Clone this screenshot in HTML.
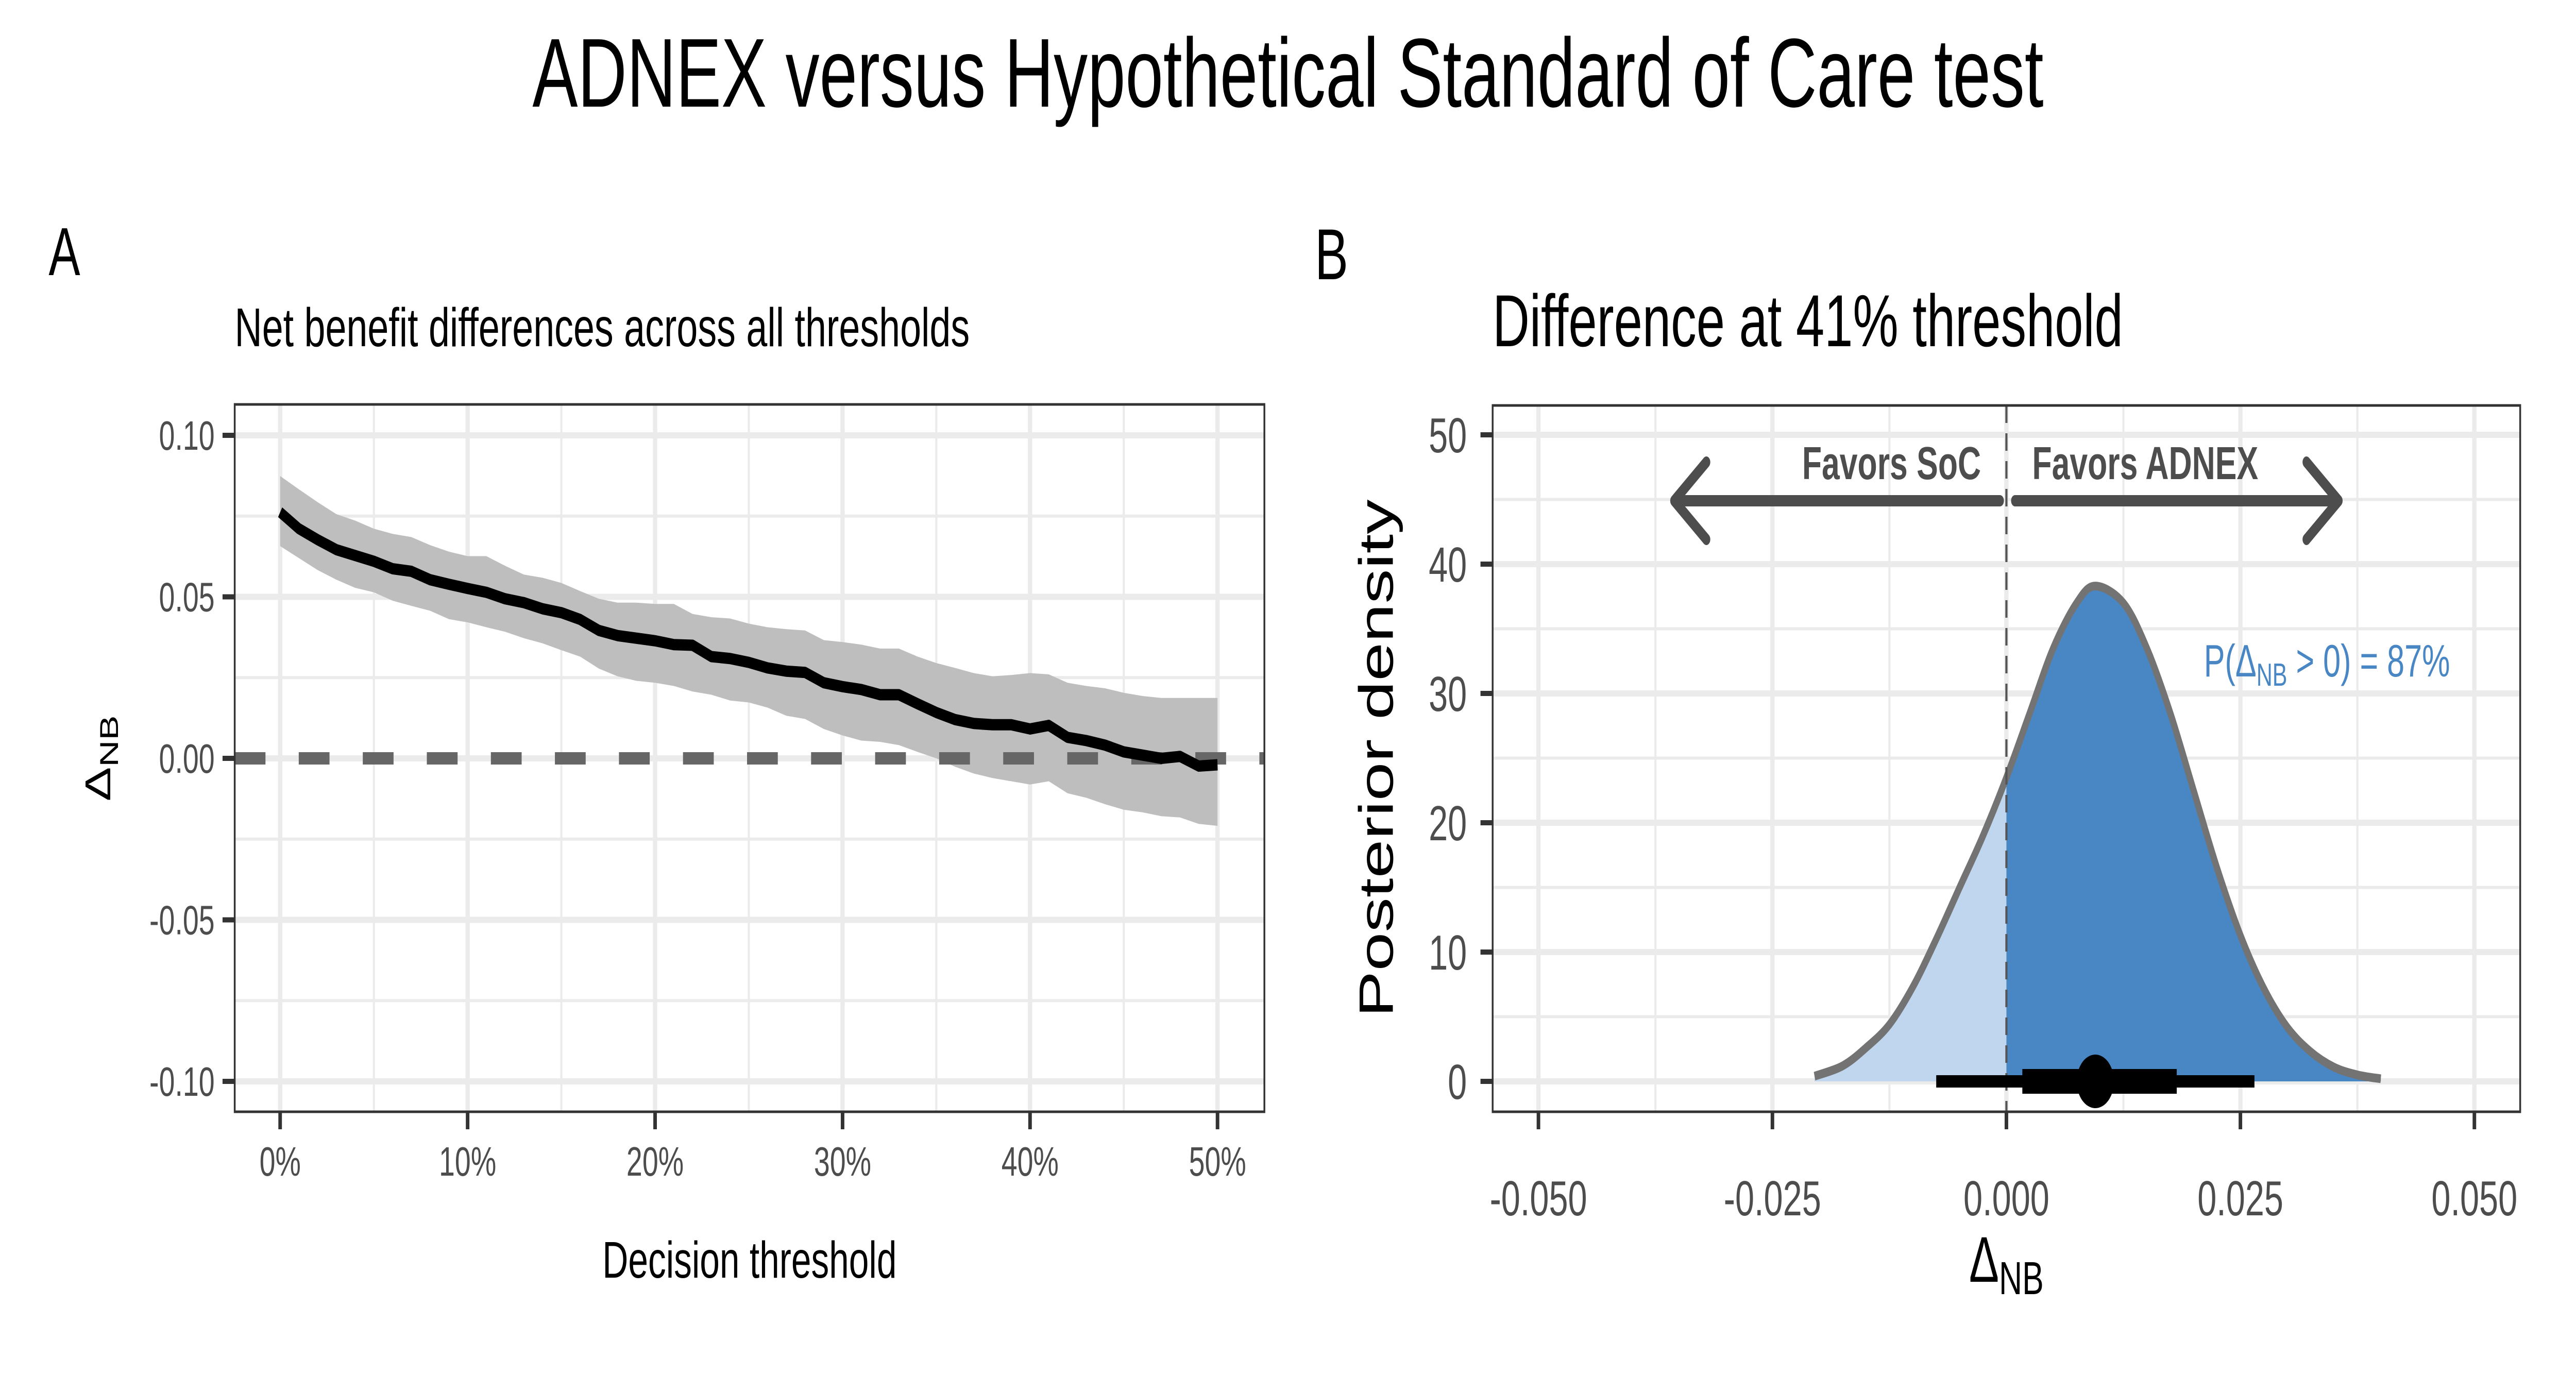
<!DOCTYPE html>
<html><head><meta charset="utf-8"><style>
html,body{margin:0;padding:0;background:#fff;width:100vw;height:100vh;overflow:hidden;}
svg{display:block;font-family:"Liberation Sans",sans-serif;width:100vw;height:100vh;}
</style></head><body>
<svg id="chart" width="100%" height="100%" viewBox="0 0 7200 2700" preserveAspectRatio="none" xmlns="http://www.w3.org/2000/svg">
<rect width="7200" height="2700" fill="#fff"/>
<text x="3600" y="207" font-size="190" text-anchor="middle" fill="#000">ADNEX versus Hypothetical Standard of Care test</text>
<text x="136" y="534" font-size="132" fill="#000">A</text>
<text x="3675" y="542" font-size="140" fill="#000">B</text>
<text x="656" y="672" font-size="106" fill="#000">Net benefit differences across all thresholds</text>
<text x="4172" y="672" font-size="143" fill="#000">Difference at 41% threshold</text>
<g id="pa"></g>
<g id="pb"></g>
</svg>
<script>
// ---- Panel A data ----
const thresholds = [0,1,2,3,4,5,6,7,8,9,10,11,12,13,14,15,16,17,18,19,20,21,22,23,24,25,26,27,28,29,30,31,32,33,34,35,36,37,38,39,40,41,42,43,44,45,46,47,48,49,50];
const meanDiff = [0.0762,0.0711,0.0677,0.0646,0.0628,0.061,0.0587,0.0579,0.0553,0.0539,0.0526,0.0514,0.0494,0.0482,0.0463,0.0451,0.043,0.0396,0.038,0.0372,0.0364,0.0352,0.035,0.0315,0.0309,0.0297,0.028,0.027,0.0266,0.0234,0.0222,0.0213,0.0197,0.0197,0.0169,0.0142,0.012,0.0108,0.0104,0.0104,0.0091,0.0102,0.0065,0.0055,0.0041,0.002,0.001,0.0,0.0006,-0.0024,-0.002];
const upperDiff = [0.0874,0.0833,0.0793,0.0756,0.0736,0.0711,0.0695,0.0685,0.066,0.064,0.0626,0.0626,0.0596,0.0569,0.0559,0.0543,0.0518,0.0494,0.0482,0.0482,0.0478,0.0478,0.0447,0.0437,0.0433,0.0417,0.0406,0.04,0.0396,0.0366,0.036,0.0352,0.034,0.034,0.0315,0.0295,0.028,0.0264,0.0254,0.0258,0.0264,0.026,0.0234,0.0224,0.0217,0.0203,0.0193,0.0187,0.0187,0.0187,0.0187];
const lowerDiff = [0.0657,0.062,0.0583,0.0553,0.0528,0.0514,0.0488,0.0472,0.0457,0.0431,0.0421,0.0406,0.0392,0.0372,0.0356,0.0335,0.0315,0.0278,0.0254,0.024,0.0234,0.0224,0.0207,0.0197,0.0179,0.0173,0.0157,0.0132,0.0122,0.0091,0.0071,0.0055,0.0051,0.0041,0.002,0.0,-0.0026,-0.0047,-0.0061,-0.0071,-0.0081,-0.0071,-0.0108,-0.0122,-0.0142,-0.0159,-0.0167,-0.0179,-0.0183,-0.0203,-0.0209];
const aXTicks = [0,10,20,30,40,50];
const aXTickLabels = ["0%","10%","20%","30%","40%","50%"];
const aYTicks = [0.10,0.05,0.00,-0.05,-0.10];
const aYTickLabels = ["0.10","0.05","0.00","-0.05","-0.10"];
// ---- Panel B data ----
const densX = [-0.0205,-0.0175,-0.015,-0.0125,-0.01,-0.0075,-0.005,-0.0025,0,0.0025,0.005,0.0075,0.0095,0.0125,0.015,0.0175,0.02,0.0225,0.025,0.0275,0.03,0.0325,0.035,0.0375,0.04];
const densY = [0.4,1.2,2.6,4.4,7.3,11.0,15.0,19.0,23.5,28.5,33.5,37.0,38.3,37.0,33.5,28.5,22.5,16.5,11.3,7.2,4.2,2.3,1.1,0.5,0.2];
const intervalOuter = [-0.0075,0.0265];
const intervalInner = [0.0017,0.0182];
const pointEstimate = [0.0095];
const bXTicks = [-0.05,-0.025,0,0.025,0.05];
const bXTickLabels = ["-0.050","-0.025","0.000","0.025","0.050"];
const bYTicks = [0,10,20,30,40,50];
const bYTickLabels = ["0","10","20","30","40","50"];
const arrowEnds = [-0.0355,0.0355];

const NS = "http://www.w3.org/2000/svg";
function mk(parent, tag, attrs){const e=document.createElementNS(NS,tag);for(const k in attrs)e.setAttribute(k,attrs[k]);parent.appendChild(e);return e;}

// ===== Panel A =====
(function(){
const g=document.getElementById('pa');
const L=656,R=3534,T=785,B=2158;
const xs=v=>783+(v/50)*2620;
const ys=v=>1472-(v/0.1)*627;
let e;
for(let v=5;v<=45;v+=10){e=mk(g,'line',{x1:xs(v),x2:xs(v),y1:T,y2:B,stroke:'#ebebeb','stroke-width':6});
}
for(const v of [0.075,0.025,-0.025,-0.075]){e=mk(g,'line',{x1:L,x2:R,y1:ys(v),y2:ys(v),stroke:'#ebebeb','stroke-width':6});
}
aXTicks.forEach(v=>{e=mk(g,'line',{x1:xs(v),x2:xs(v),y1:T,y2:B,stroke:'#ebebeb','stroke-width':12});
});
aYTicks.forEach(v=>{e=mk(g,'line',{x1:L,x2:R,y1:ys(v),y2:ys(v),stroke:'#ebebeb','stroke-width':12});
});
let d='M'+thresholds.map((t,i)=>xs(t)+','+ys(upperDiff[i])).join('L');
for(let i=thresholds.length-1;i>=0;i--)d+='L'+xs(thresholds[i])+','+ys(lowerDiff[i]);
e=mk(g,'path',{d:d+'Z',fill:'#bebebe'});

e=mk(g,'line',{x1:L,x2:R,y1:ys(0),y2:ys(0),stroke:'#666','stroke-width':24,'stroke-dasharray':'86 93'});

e=mk(g,'path',{d:'M'+thresholds.map((t,i)=>xs(t)+','+ys(meanDiff[i])).join('L'),fill:'none',stroke:'#000','stroke-width':22,'stroke-linejoin':'round'});

e=mk(g,'rect',{x:L,y:T,width:R-L,height:B-T,fill:'none',stroke:'#333','stroke-width':5});

aXTicks.forEach((v,i)=>{e=mk(g,'line',{x1:xs(v),x2:xs(v),y1:B,y2:B+34,stroke:'#333','stroke-width':10});

e=mk(g,'text',{x:xs(v),y:2282,'font-size':80,'text-anchor':'middle',fill:'#4d4d4d'});e.textContent=aXTickLabels[i];
});
aYTicks.forEach((v,i)=>{e=mk(g,'line',{x1:L-34,x2:L,y1:ys(v),y2:ys(v),stroke:'#333','stroke-width':10});

e=mk(g,'text',{x:600,y:ys(v)+28,'font-size':80,'text-anchor':'end',fill:'#4d4d4d'});e.textContent=aYTickLabels[i];
});
e=mk(g,'text',{x:(L+R)/2,y:2480,'font-size':100,'text-anchor':'middle',fill:'#000'});e.textContent='Decision threshold';

e=mk(g,'text',{transform:'translate(308,1472) rotate(-90)','font-size':100,'text-anchor':'middle',fill:'#000'});
e.innerHTML='Δ<tspan font-size="72" dy="22">NB</tspan>';

})();

// ===== Panel B =====
(function(){
const g=document.getElementById('pb');
const L=4172,R=7044,T=787,B=2158;
const xs=v=>5608+(v/0.025)*654;
const ys=v=>2099-(v/10)*251;
let e;
for(const v of [-0.0375,-0.0125,0.0125,0.0375]){e=mk(g,'line',{x1:xs(v),x2:xs(v),y1:T,y2:B,stroke:'#ebebeb','stroke-width':6});
}
for(const v of [5,15,25,35,45]){e=mk(g,'line',{x1:L,x2:R,y1:ys(v),y2:ys(v),stroke:'#ebebeb','stroke-width':6});
}
bXTicks.forEach(v=>{e=mk(g,'line',{x1:xs(v),x2:xs(v),y1:T,y2:B,stroke:'#ebebeb','stroke-width':12});
});
bYTicks.forEach(v=>{e=mk(g,'line',{x1:L,x2:R,y1:ys(v),y2:ys(v),stroke:'#ebebeb','stroke-width':12});
});
const neg=[],pos=[];
densX.forEach((x,i)=>{if(x<=0)neg.push([x,densY[i]]);if(x>=0)pos.push([x,densY[i]]);});
let dn='M'+xs(neg[0][0])+','+ys(0)+neg.map(p=>'L'+xs(p[0])+','+ys(p[1])).join('')+'L'+xs(0)+','+ys(0)+'Z';
e=mk(g,'path',{d:dn,fill:'#c0d6ee'});

let dp='M'+xs(0)+','+ys(0)+pos.map(p=>'L'+xs(p[0])+','+ys(p[1])).join('')+'L'+xs(pos[pos.length-1][0])+','+ys(0)+'Z';
e=mk(g,'path',{d:dp,fill:'#4886c4'});

const pts=densX.map((x,i)=>[xs(x),ys(densY[i])]);
let c='M'+pts[0][0]+','+pts[0][1];
for(let i=0;i<pts.length-1;i++){const p0=pts[Math.max(0,i-1)],p1=pts[i],p2=pts[i+1],p3=pts[Math.min(pts.length-1,i+2)];
c+='C'+(p1[0]+(p2[0]-p0[0])/6)+','+(p1[1]+(p2[1]-p0[1])/6)+' '+(p2[0]-(p3[0]-p1[0])/6)+','+(p2[1]-(p3[1]-p1[1])/6)+' '+p2[0]+','+p2[1];}
e=mk(g,'path',{d:c,fill:'none',stroke:'#737373','stroke-width':17,'stroke-linejoin':'round'});

e=mk(g,'line',{x1:xs(0),x2:xs(0),y1:T,y2:B,stroke:'#555','stroke-width':6,'stroke-dasharray':'34 20'});

e=mk(g,'line',{x1:xs(intervalOuter[0]),x2:xs(intervalOuter[1]),y1:ys(0),y2:ys(0),stroke:'#000','stroke-width':24});

e=mk(g,'line',{x1:xs(intervalInner[0]),x2:xs(intervalInner[1]),y1:ys(0),y2:ys(0),stroke:'#000','stroke-width':48});

e=mk(g,'circle',{cx:xs(pointEstimate[0]),cy:ys(0),r:52,fill:'#000'});

const ay=972;
e=mk(g,'path',{d:'M'+(xs(0)-18)+','+ay+'L'+xs(arrowEnds[0])+','+ay+'M'+(xs(arrowEnds[0])+90)+','+(ay-75)+'L'+xs(arrowEnds[0])+','+ay+'L'+(xs(arrowEnds[0])+90)+','+(ay+75),fill:'none',stroke:'#4d4d4d','stroke-width':22,'stroke-linecap':'round','stroke-linejoin':'round'});

e=mk(g,'path',{d:'M'+(xs(0)+24)+','+ay+'L'+xs(arrowEnds[1])+','+ay+'M'+(xs(arrowEnds[1])-90)+','+(ay-75)+'L'+xs(arrowEnds[1])+','+ay+'L'+(xs(arrowEnds[1])-90)+','+(ay+75),fill:'none',stroke:'#4d4d4d','stroke-width':22,'stroke-linecap':'round','stroke-linejoin':'round'});

e=mk(g,'text',{x:5537,y:930,'font-size':90,'font-weight':'bold','text-anchor':'end',fill:'#4d4d4d'});e.textContent='Favors SoC';

e=mk(g,'text',{x:5680,y:930,'font-size':90,'font-weight':'bold',fill:'#4d4d4d'});e.textContent='Favors ADNEX';

e=mk(g,'text',{x:6160,y:1313,'font-size':88,fill:'#4886c4'});
e.innerHTML='P(Δ<tspan font-size="62" dy="18">NB</tspan><tspan dy="-18"> &gt; 0) = 87%</tspan>';

e=mk(g,'rect',{x:L,y:T,width:R-L,height:B-T,fill:'none',stroke:'#333','stroke-width':5});

bXTicks.forEach((v,i)=>{e=mk(g,'line',{x1:xs(v),x2:xs(v),y1:B,y2:B+34,stroke:'#333','stroke-width':10});

e=mk(g,'text',{x:xs(v),y:2359,'font-size':96,'text-anchor':'middle',fill:'#4d4d4d'});e.textContent=bXTickLabels[i];
});
bYTicks.forEach((v,i)=>{e=mk(g,'line',{x1:L-34,x2:L,y1:ys(v),y2:ys(v),stroke:'#333','stroke-width':10});

e=mk(g,'text',{x:4100,y:ys(v)+34,'font-size':96,'text-anchor':'end',fill:'#4d4d4d'});e.textContent=bYTickLabels[i];
});
e=mk(g,'text',{x:xs(0),y:2488,'font-size':125,'text-anchor':'middle',fill:'#000'});
e.innerHTML='Δ<tspan font-size="90" dy="24">NB</tspan>';

e=mk(g,'text',{transform:'translate(3893,1472) rotate(-90)','font-size':135,'text-anchor':'middle',fill:'#000'});
e.textContent='Posterior density';

})();
</script>
</body></html>
